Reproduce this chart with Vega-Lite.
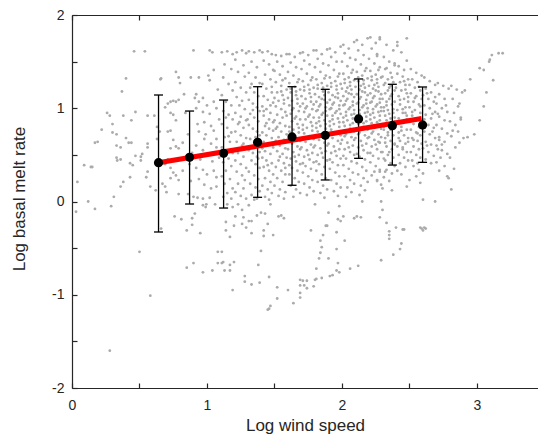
{
"$schema":"https://vega.github.io/schema/vega-lite/v6.json",
"width":466,"height":373,
"autosize":{"type":"none"},
"padding":{"left":72,"top":15,"right":0,"bottom":49},
"background":"white",
"config":{"view":{"stroke":null},"font":"Liberation Sans"},
"datasets":{
"stats":[
{"x":0.641,"y":0.416,"lo":-0.327,"hi":1.142},
{"x":0.871,"y":0.474,"lo":-0.027,"hi":0.970},
{"x":1.123,"y":0.517,"lo":-0.070,"hi":1.088},
{"x":1.375,"y":0.635,"lo":0.045,"hi":1.231},
{"x":1.630,"y":0.692,"lo":0.174,"hi":1.231},
{"x":1.876,"y":0.710,"lo":0.231,"hi":1.203},
{"x":2.123,"y":0.885,"lo":0.463,"hi":1.314},
{"x":2.373,"y":0.813,"lo":0.391,"hi":1.257},
{"x":2.597,"y":0.820,"lo":0.420,"hi":1.228}
],
"fit":[{"x":0.64,"y":0.415},{"x":2.59,"y":0.89}],
"pts":[
{"x":0.12,"y":0.00},{"x":0.03,"y":-0.11},{"x":0.17,"y":-0.08},{"x":0.29,"y":-0.05},{"x":0.66,"y":-0.29},{"x":0.76,"y":-0.16},{"x":0.81,"y":-0.19},{"x":0.85,"y":-0.31},{"x":0.89,"y":-0.25},{"x":0.89,"y":-0.18},{"x":0.91,"y":-0.13},{"x":0.95,"y":-0.34},{"x":0.97,"y":-0.04},{"x":0.99,"y":-0.06},{"x":0.995,"y":-0.03},{"x":1.06,"y":-0.03},{"x":0.50,"y":-0.54},{"x":0.85,"y":-0.71},{"x":0.90,"y":-0.66},{"x":0.97,"y":-0.76},{"x":1.04,"y":-0.74},{"x":1.08,"y":-0.54},{"x":1.08,"y":-0.66},{"x":0.58,"y":-1.01},{"x":0.28,"y":-1.60},
{"x":1.15,"y":-0.03},{"x":1.19,"y":-0.06},{"x":1.23,"y":-0.03},{"x":1.26,"y":-0.09},{"x":1.31,"y":-0.04},{"x":1.35,"y":0.02},{"x":1.47,"y":-0.03},{"x":1.40,"y":-0.12},{"x":1.43,"y":-0.13},{"x":1.37,"y":-0.15},{"x":1.21,"y":-0.16},{"x":1.27,"y":-0.17},{"x":1.14,"y":-0.22},{"x":1.20,"y":-0.26},{"x":1.26,"y":-0.24},{"x":1.29,"y":-0.28},{"x":1.31,"y":-0.21},{"x":1.33,"y":-0.21},{"x":1.45,"y":-0.24},{"x":1.42,"y":-0.31},{"x":1.14,"y":-0.31},{"x":1.17,"y":-0.38},{"x":1.33,"y":-0.34},{"x":1.42,"y":-0.37},{"x":1.49,"y":-0.36},{"x":1.53,"y":-0.16},{"x":1.57,"y":-0.18},{"x":1.55,"y":-0.15},{"x":1.40,"y":-0.53},{"x":1.11,"y":-0.54},{"x":1.12,"y":-0.65},{"x":1.11,"y":-0.66},{"x":1.17,"y":-0.68},{"x":1.20,"y":-0.65},{"x":1.13,"y":-0.74},{"x":1.17,"y":-0.74},{"x":1.38,"y":-0.68},{"x":1.46,"y":-0.81},{"x":1.28,"y":-0.80},{"x":1.28,"y":-0.86},{"x":1.33,"y":-0.89},{"x":1.39,"y":-0.87},{"x":1.19,"y":-0.95},{"x":1.52,"y":-0.92},{"x":1.60,"y":-0.95},{"x":1.52,"y":-1.04},{"x":1.47,"y":-1.12},{"x":1.46,"y":-1.15},{"x":1.45,"y":-1.16},{"x":1.64,"y":-1.09},{"x":1.69,"y":-1.03},{"x":1.69,"y":-0.98},{"x":1.69,"y":-0.84},{"x":1.71,"y":-0.85},{"x":1.74,"y":-0.85},{"x":1.69,"y":-0.90},{"x":1.72,"y":-0.90},{"x":1.74,"y":-0.93},{"x":1.79,"y":-0.91},{"x":1.80,"y":-0.84},{"x":1.81,"y":-0.83},{"x":1.85,"y":-0.82},{"x":1.81,"y":-0.72},{"x":1.83,"y":-0.61},{"x":1.84,"y":-0.55},{"x":1.85,"y":-0.49},{"x":1.84,"y":-0.42},{"x":1.86,"y":-0.36},{"x":1.88,"y":-0.26},{"x":1.89,"y":-0.26},{"x":1.90,"y":-0.12},{"x":1.77,"y":-0.31},{"x":1.80,"y":-0.03},{"x":1.90,"y":-0.61},{"x":1.91,"y":-0.80},{"x":1.93,"y":-0.79},{"x":1.96,"y":-0.74},{"x":1.98,"y":-0.76},{"x":1.97,"y":-0.66},{"x":1.96,"y":-0.51},{"x":1.96,"y":-0.33},{"x":2.02,"y":-0.42},{"x":1.97,"y":-0.19},{"x":1.99,"y":-0.21},{"x":2.01,"y":-0.16},{"x":1.98,"y":-0.05},{"x":2.06,"y":-0.72},{"x":2.12,"y":-0.69},{"x":2.09,"y":-0.18},{"x":2.11,"y":-0.16},{"x":2.14,"y":-0.17},{"x":2.15,"y":0.00},
{"x":2.29,"y":0.00},{"x":2.30,"y":-0.09},{"x":2.28,"y":-0.17},{"x":2.33,"y":-0.23},{"x":2.40,"y":-0.28},{"x":2.35,"y":-0.32},{"x":2.35,"y":-0.36},{"x":2.35,"y":-0.40},{"x":2.45,"y":-0.30},{"x":2.46,"y":-0.30},{"x":2.58,"y":-0.28},{"x":2.59,"y":-0.29},{"x":2.61,"y":-0.28},{"x":2.62,"y":-0.29},{"x":2.60,"y":-0.31},{"x":2.44,"y":-0.45},{"x":2.43,"y":-0.51},{"x":2.38,"y":-0.57},{"x":2.29,"y":-0.63},{"x":2.60,"y":0.02},{"x":2.69,"y":0.00},
{"x":0.46,"y":1.61},{"x":0.54,"y":1.61},{"x":0.90,"y":1.62},{"x":1.02,"y":1.62},{"x":1.04,"y":1.60},{"x":0.77,"y":1.39},{"x":1.05,"y":1.41},{"x":0.66,"y":1.32},{"x":0.655,"y":1.31},{"x":0.79,"y":1.33},{"x":0.80,"y":1.27},{"x":0.88,"y":1.33},{"x":0.94,"y":1.33},{"x":0.40,"y":1.32},{"x":1.01,"y":1.35},{"x":1.02,"y":1.30},{"x":0.37,"y":1.18},{"x":0.92,"y":1.15},{"x":0.26,"y":0.95},{"x":0.28,"y":0.92},{"x":0.30,"y":0.83},{"x":0.22,"y":0.77},{"x":0.19,"y":0.64},{"x":0.17,"y":0.63},{"x":0.09,"y":0.39},{"x":0.14,"y":0.37},{"x":0.15,"y":0.37},{"x":0.04,"y":0.21},{"x":0.38,"y":0.92},{"x":0.44,"y":0.87},{"x":0.47,"y":0.96},{"x":0.56,"y":0.92},{"x":0.61,"y":0.92},{"x":0.30,"y":0.74},{"x":0.33,"y":0.72},{"x":0.40,"y":0.68},{"x":0.42,"y":0.63},{"x":0.44,"y":0.63},{"x":0.33,"y":0.60},{"x":0.36,"y":0.58},{"x":0.33,"y":0.47},{"x":0.335,"y":0.44},{"x":0.36,"y":0.45},{"x":0.43,"y":0.41},{"x":0.45,"y":0.39},{"x":0.47,"y":0.49},{"x":0.51,"y":0.48},{"x":0.52,"y":0.51},{"x":0.51,"y":0.44},{"x":0.56,"y":0.62},{"x":0.56,"y":0.58},{"x":0.63,"y":0.67},{"x":0.63,"y":0.80},{"x":0.65,"y":0.75},{"x":0.69,"y":1.01},{"x":0.71,"y":1.05},{"x":0.73,"y":1.07},{"x":0.75,"y":1.08},{"x":0.77,"y":1.07},{"x":0.79,"y":1.09},{"x":0.73,"y":0.95},{"x":0.75,"y":0.93},{"x":0.77,"y":0.87},{"x":0.71,"y":0.75},{"x":0.73,"y":0.76},{"x":0.75,"y":0.66},{"x":0.73,"y":0.57},{"x":0.77,"y":0.59},{"x":0.79,"y":0.57},{"x":0.82,"y":0.63},{"x":0.73,"y":0.36},{"x":0.75,"y":0.31},{"x":0.77,"y":0.28},{"x":0.79,"y":0.23},{"x":0.82,"y":0.33},{"x":0.56,"y":0.32},{"x":0.58,"y":0.16},{"x":0.62,"y":0.12},{"x":0.70,"y":0.10},{"x":0.79,"y":0.08},{"x":0.38,"y":0.21},{"x":0.36,"y":0.16},{"x":0.31,"y":0.05},{"x":0.43,"y":0.26},{"x":0.91,"y":1.11},{"x":0.94,"y":1.07},{"x":0.97,"y":1.11},{"x":1.00,"y":1.03},{"x":1.05,"y":1.07},{"x":0.92,"y":1.00},{"x":0.97,"y":0.96},{"x":1.02,"y":0.94},{"x":1.07,"y":1.00},{"x":0.93,"y":0.83},{"x":0.98,"y":0.85},{"x":1.03,"y":0.81},{"x":1.05,"y":0.76},{"x":0.94,"y":0.75},{"x":0.98,"y":0.67},{"x":1.03,"y":0.62},{"x":1.07,"y":0.67},{"x":0.92,"y":0.60},{"x":0.97,"y":0.55},{"x":1.07,"y":0.58},{"x":0.92,"y":0.36},{"x":0.97,"y":0.34},{"x":1.00,"y":0.29},{"x":1.05,"y":0.33},{"x":1.07,"y":0.26},{"x":0.94,"y":0.24},{"x":0.98,"y":0.18},{"x":1.03,"y":0.14},{"x":1.07,"y":0.16},{"x":0.93,"y":0.04},{"x":0.97,"y":0.03},{"x":1.02,"y":0.04},{"x":0.90,"y":0.05},{"x":0.86,"y":0.08},{"x":0.88,"y":0.22},{"x":0.87,"y":0.40},{"x":0.69,"y":0.40},{"x":0.71,"y":0.45},{"x":0.73,"y":0.25},{"x":0.67,"y":0.19},{"x":0.69,"y":0.16},{"x":0.55,"y":0.26},{"x":0.84,"y":0.95},{"x":0.86,"y":0.72},{"x":0.89,"y":0.52},{"x":0.95,"y":0.45},{"x":1.01,"y":0.50},{"x":1.04,"y":0.43},{"x":0.99,"y":0.72},{"x":1.09,"y":0.88},{"x":1.09,"y":0.47},{"x":1.08,"y":1.20},{"x":0.83,"y":1.15},{"x":0.85,"y":0.47},
{"x":2.28,"y":1.76},{"x":2.41,"y":1.71},{"x":2.41,"y":1.67},{"x":2.48,"y":1.75},{"x":2.44,"y":1.60},{"x":2.48,"y":1.51},{"x":2.39,"y":1.48},{"x":2.33,"y":1.43},{"x":2.26,"y":1.56},{"x":3.16,"y":1.59},{"x":3.11,"y":1.57},{"x":3.09,"y":1.50},{"x":3.095,"y":1.52},{"x":3.19,"y":1.59},{"x":3.02,"y":1.43},{"x":3.05,"y":1.41},{"x":3.12,"y":1.30},{"x":2.95,"y":1.31},{"x":3.07,"y":1.17},{"x":2.91,"y":1.19},{"x":2.87,"y":1.05},{"x":3.05,"y":1.02},{"x":3.02,"y":0.87},{"x":2.88,"y":0.88},{"x":2.98,"y":0.72},{"x":2.93,"y":0.69},{"x":2.90,"y":0.68},{"x":2.87,"y":0.63},{"x":2.84,"y":0.58},{"x":2.82,"y":0.76},{"x":2.80,"y":0.86},{"x":2.80,"y":0.47},{"x":2.76,"y":0.38},{"x":2.83,"y":0.35},{"x":2.78,"y":0.27},{"x":2.79,"y":0.25},{"x":2.81,"y":0.13},{"x":2.72,"y":0.66},{"x":2.74,"y":0.61},{"x":2.71,"y":0.56},{"x":2.70,"y":0.42},{"x":2.72,"y":0.33},{"x":2.57,"y":0.34},{"x":2.60,"y":0.30},{"x":2.58,"y":0.20},{"x":2.55,"y":0.27},{"x":2.53,"y":0.38},{"x":2.50,"y":0.23},{"x":2.48,"y":0.16},{"x":2.37,"y":0.12},{"x":2.30,"y":0.14},{"x":2.26,"y":0.23},{"x":2.28,"y":0.32},{"x":2.32,"y":0.32},{"x":2.24,"y":0.32},
{"x":1.11,"y":1.60},{"x":1.15,"y":1.61},{"x":1.19,"y":1.58},{"x":1.13,"y":1.47},{"x":1.18,"y":1.42},{"x":1.12,"y":1.33},{"x":1.16,"y":1.26},{"x":1.19,"y":1.19},{"x":1.11,"y":1.14},{"x":1.14,"y":1.07},{"x":1.18,"y":1.03},{"x":1.12,"y":0.97},{"x":1.16,"y":0.93},{"x":1.19,"y":0.88},{"x":1.11,"y":0.83},{"x":1.15,"y":0.79},{"x":1.18,"y":0.74},{"x":1.13,"y":0.69},{"x":1.17,"y":0.64},{"x":1.11,"y":0.58},{"x":1.14,"y":0.55},{"x":1.19,"y":0.52},{"x":1.16,"y":0.46},{"x":1.12,"y":0.42},{"x":1.18,"y":0.38},{"x":1.14,"y":0.33},{"x":1.11,"y":0.27},{"x":1.17,"y":0.24},{"x":1.13,"y":0.19},{"x":1.19,"y":0.14},{"x":1.15,"y":0.09},{"x":1.12,"y":0.05},{"x":1.18,"y":0.03},{"x":1.16,"y":0.70},{"x":1.14,"y":0.90},
{"x":1.22,"y":1.60},{"x":1.26,"y":1.62},{"x":1.29,"y":1.59},{"x":1.21,"y":1.52},{"x":1.27,"y":1.46},{"x":1.23,"y":1.39},{"x":1.28,"y":1.34},{"x":1.21,"y":1.28},{"x":1.25,"y":1.22},{"x":1.29,"y":1.17},{"x":1.22,"y":1.12},{"x":1.26,"y":1.08},{"x":1.24,"y":1.03},{"x":1.28,"y":0.99},{"x":1.21,"y":0.95},{"x":1.25,"y":0.91},{"x":1.29,"y":0.87},{"x":1.23,"y":0.83},{"x":1.27,"y":0.79},{"x":1.21,"y":0.75},{"x":1.25,"y":0.71},{"x":1.29,"y":0.68},{"x":1.22,"y":0.64},{"x":1.26,"y":0.60},{"x":1.28,"y":0.56},{"x":1.23,"y":0.52},{"x":1.27,"y":0.48},{"x":1.21,"y":0.44},{"x":1.25,"y":0.40},{"x":1.29,"y":0.36},{"x":1.22,"y":0.32},{"x":1.26,"y":0.28},{"x":1.28,"y":0.23},{"x":1.23,"y":0.19},{"x":1.27,"y":0.14},{"x":1.21,"y":0.10},{"x":1.25,"y":0.06},{"x":1.29,"y":0.03},{"x":1.24,"y":0.85},{"x":1.27,"y":0.62},
{"x":1.31,"y":1.61},{"x":1.35,"y":1.60},{"x":1.39,"y":1.62},{"x":1.33,"y":1.50},{"x":1.37,"y":1.44},{"x":1.31,"y":1.38},{"x":1.36,"y":1.33},{"x":1.39,"y":1.27},{"x":1.32,"y":1.22},{"x":1.35,"y":1.17},{"x":1.38,"y":1.13},{"x":1.31,"y":1.09},{"x":1.34,"y":1.05},{"x":1.37,"y":1.01},{"x":1.39,"y":0.97},{"x":1.32,"y":0.94},{"x":1.35,"y":0.90},{"x":1.38,"y":0.86},{"x":1.31,"y":0.82},{"x":1.34,"y":0.78},{"x":1.37,"y":0.75},{"x":1.39,"y":0.71},{"x":1.32,"y":0.67},{"x":1.35,"y":0.63},{"x":1.38,"y":0.59},{"x":1.31,"y":0.55},{"x":1.34,"y":0.52},{"x":1.37,"y":0.48},{"x":1.33,"y":0.44},{"x":1.36,"y":0.40},{"x":1.39,"y":0.36},{"x":1.31,"y":0.32},{"x":1.35,"y":0.28},{"x":1.38,"y":0.24},{"x":1.32,"y":0.19},{"x":1.36,"y":0.15},{"x":1.39,"y":0.11},{"x":1.33,"y":0.07},{"x":1.37,"y":0.03},{"x":1.34,"y":0.98},{"x":1.36,"y":0.69},{"x":1.38,"y":0.46},{"x":1.33,"y":1.26},{"x":1.30,"y":0.88},{"x":1.39,"y":0.53},
{"x":1.41,"y":1.60},{"x":1.45,"y":1.61},{"x":1.48,"y":1.58},{"x":1.42,"y":1.51},{"x":1.46,"y":1.47},{"x":1.49,"y":1.41},{"x":1.43,"y":1.36},{"x":1.47,"y":1.31},{"x":1.41,"y":1.26},{"x":1.44,"y":1.21},{"x":1.48,"y":1.17},{"x":1.42,"y":1.13},{"x":1.45,"y":1.09},{"x":1.49,"y":1.06},{"x":1.41,"y":1.02},{"x":1.44,"y":0.99},{"x":1.47,"y":0.95},{"x":1.42,"y":0.92},{"x":1.46,"y":0.88},{"x":1.49,"y":0.85},{"x":1.43,"y":0.81},{"x":1.46,"y":0.78},{"x":1.41,"y":0.74},{"x":1.44,"y":0.71},{"x":1.48,"y":0.68},{"x":1.42,"y":0.64},{"x":1.45,"y":0.61},{"x":1.49,"y":0.58},{"x":1.43,"y":0.54},{"x":1.47,"y":0.51},{"x":1.41,"y":0.47},{"x":1.44,"y":0.44},{"x":1.48,"y":0.41},{"x":1.42,"y":0.37},{"x":1.46,"y":0.33},{"x":1.49,"y":0.29},{"x":1.43,"y":0.25},{"x":1.47,"y":0.21},{"x":1.41,"y":0.17},{"x":1.45,"y":0.13},{"x":1.48,"y":0.09},{"x":1.43,"y":0.05},{"x":1.46,"y":0.02},{"x":1.47,"y":1.03},{"x":1.44,"y":0.84},{"x":1.49,"y":0.76},{"x":1.41,"y":0.57},{"x":1.45,"y":0.39},{"x":1.48,"y":1.23},{"x":1.42,"y":0.97},
{"x":1.51,"y":1.57},{"x":1.55,"y":1.56},{"x":1.59,"y":1.58},{"x":1.52,"y":1.50},{"x":1.56,"y":1.45},{"x":1.50,"y":1.40},{"x":1.54,"y":1.36},{"x":1.58,"y":1.32},{"x":1.51,"y":1.28},{"x":1.55,"y":1.24},{"x":1.59,"y":1.20},{"x":1.52,"y":1.17},{"x":1.56,"y":1.14},{"x":1.50,"y":1.11},{"x":1.53,"y":1.08},{"x":1.57,"y":1.05},{"x":1.51,"y":1.02},{"x":1.55,"y":0.99},{"x":1.58,"y":0.96},{"x":1.52,"y":0.93},{"x":1.56,"y":0.90},{"x":1.50,"y":0.87},{"x":1.54,"y":0.84},{"x":1.58,"y":0.81},{"x":1.51,"y":0.78},{"x":1.55,"y":0.75},{"x":1.59,"y":0.72},{"x":1.53,"y":0.69},{"x":1.57,"y":0.66},{"x":1.50,"y":0.63},{"x":1.54,"y":0.60},{"x":1.58,"y":0.57},{"x":1.52,"y":0.54},{"x":1.56,"y":0.51},{"x":1.59,"y":0.47},{"x":1.53,"y":0.44},{"x":1.57,"y":0.41},{"x":1.51,"y":0.37},{"x":1.55,"y":0.33},{"x":1.58,"y":0.29},{"x":1.52,"y":0.25},{"x":1.56,"y":0.21},{"x":1.50,"y":0.17},{"x":1.54,"y":0.13},{"x":1.58,"y":0.10},{"x":1.53,"y":0.06},{"x":1.57,"y":0.03},{"x":1.55,"y":1.18},{"x":1.59,"y":0.92},{"x":1.52,"y":0.80},{"x":1.57,"y":1.09},{"x":1.54,"y":0.48},{"x":1.58,"y":0.36},{"x":1.51,"y":0.65},{"x":1.56,"y":1.30},
{"x":1.61,"y":1.58},{"x":1.65,"y":1.55},{"x":1.69,"y":1.59},{"x":1.62,"y":1.49},{"x":1.66,"y":1.44},{"x":1.60,"y":1.39},{"x":1.64,"y":1.35},{"x":1.68,"y":1.31},{"x":1.61,"y":1.27},{"x":1.65,"y":1.23},{"x":1.69,"y":1.20},{"x":1.62,"y":1.17},{"x":1.66,"y":1.14},{"x":1.60,"y":1.11},{"x":1.63,"y":1.08},{"x":1.67,"y":1.05},{"x":1.61,"y":1.03},{"x":1.64,"y":1.00},{"x":1.68,"y":0.97},{"x":1.62,"y":0.94},{"x":1.66,"y":0.91},{"x":1.69,"y":0.88},{"x":1.63,"y":0.86},{"x":1.67,"y":0.83},{"x":1.61,"y":0.80},{"x":1.64,"y":0.77},{"x":1.68,"y":0.74},{"x":1.62,"y":0.71},{"x":1.66,"y":0.68},{"x":1.69,"y":0.65},{"x":1.63,"y":0.62},{"x":1.67,"y":0.59},{"x":1.60,"y":0.56},{"x":1.64,"y":0.53},{"x":1.68,"y":0.50},{"x":1.62,"y":0.46},{"x":1.66,"y":0.43},{"x":1.69,"y":0.40},{"x":1.63,"y":0.36},{"x":1.67,"y":0.33},{"x":1.61,"y":0.29},{"x":1.65,"y":0.25},{"x":1.68,"y":0.21},{"x":1.62,"y":0.17},{"x":1.66,"y":0.13},{"x":1.69,"y":0.09},{"x":1.64,"y":0.05},{"x":1.67,"y":1.10},{"x":1.63,"y":0.98},{"x":1.69,"y":1.02},{"x":1.65,"y":0.89},{"x":1.61,"y":0.75},{"x":1.68,"y":0.79},{"x":1.64,"y":0.66},{"x":1.66,"y":1.18},{"x":1.62,"y":1.21},{"x":1.69,"y":0.56},{"x":1.65,"y":0.48},{"x":1.61,"y":0.39},{"x":1.67,"y":1.28},
{"x":1.71,"y":1.60},{"x":1.75,"y":1.57},{"x":1.79,"y":1.62},{"x":1.72,"y":1.51},{"x":1.76,"y":1.47},{"x":1.70,"y":1.42},{"x":1.74,"y":1.37},{"x":1.78,"y":1.33},{"x":1.71,"y":1.29},{"x":1.75,"y":1.25},{"x":1.79,"y":1.22},{"x":1.72,"y":1.19},{"x":1.76,"y":1.16},{"x":1.70,"y":1.13},{"x":1.73,"y":1.10},{"x":1.77,"y":1.07},{"x":1.71,"y":1.05},{"x":1.74,"y":1.02},{"x":1.78,"y":0.99},{"x":1.72,"y":0.96},{"x":1.76,"y":0.93},{"x":1.79,"y":0.90},{"x":1.73,"y":0.88},{"x":1.77,"y":0.85},{"x":1.71,"y":0.82},{"x":1.74,"y":0.79},{"x":1.78,"y":0.76},{"x":1.72,"y":0.73},{"x":1.76,"y":0.70},{"x":1.79,"y":0.67},{"x":1.73,"y":0.64},{"x":1.77,"y":0.61},{"x":1.70,"y":0.58},{"x":1.74,"y":0.55},{"x":1.78,"y":0.52},{"x":1.72,"y":0.48},{"x":1.76,"y":0.45},{"x":1.79,"y":0.42},{"x":1.73,"y":0.38},{"x":1.77,"y":0.35},{"x":1.71,"y":0.31},{"x":1.75,"y":0.27},{"x":1.78,"y":0.23},{"x":1.72,"y":0.19},{"x":1.76,"y":0.15},{"x":1.79,"y":0.11},{"x":1.74,"y":0.07},{"x":1.77,"y":1.12},{"x":1.73,"y":1.00},{"x":1.79,"y":1.04},{"x":1.75,"y":0.91},{"x":1.71,"y":0.77},{"x":1.78,"y":0.81},{"x":1.74,"y":0.68},{"x":1.76,"y":1.20},{"x":1.72,"y":1.23},{"x":1.79,"y":0.58},{"x":1.75,"y":0.50},{"x":1.71,"y":0.41},{"x":1.77,"y":1.30},
{"x":1.81,"y":1.62},{"x":1.85,"y":1.58},{"x":1.89,"y":1.63},{"x":1.82,"y":1.53},{"x":1.86,"y":1.48},{"x":1.80,"y":1.44},{"x":1.84,"y":1.39},{"x":1.88,"y":1.35},{"x":1.81,"y":1.31},{"x":1.85,"y":1.27},{"x":1.89,"y":1.24},{"x":1.82,"y":1.21},{"x":1.86,"y":1.18},{"x":1.80,"y":1.15},{"x":1.83,"y":1.12},{"x":1.87,"y":1.09},{"x":1.81,"y":1.07},{"x":1.84,"y":1.04},{"x":1.88,"y":1.01},{"x":1.82,"y":0.98},{"x":1.86,"y":0.95},{"x":1.89,"y":0.92},{"x":1.83,"y":0.90},{"x":1.87,"y":0.87},{"x":1.81,"y":0.84},{"x":1.84,"y":0.81},{"x":1.88,"y":0.78},{"x":1.82,"y":0.75},{"x":1.86,"y":0.72},{"x":1.89,"y":0.69},{"x":1.83,"y":0.66},{"x":1.87,"y":0.63},{"x":1.80,"y":0.60},{"x":1.84,"y":0.57},{"x":1.88,"y":0.54},{"x":1.82,"y":0.50},{"x":1.86,"y":0.47},{"x":1.89,"y":0.44},{"x":1.83,"y":0.40},{"x":1.87,"y":0.37},{"x":1.81,"y":0.33},{"x":1.85,"y":0.29},{"x":1.88,"y":0.25},{"x":1.82,"y":0.21},{"x":1.86,"y":0.17},{"x":1.89,"y":0.13},{"x":1.84,"y":0.09},{"x":1.87,"y":0.04},{"x":1.87,"y":1.14},{"x":1.83,"y":1.02},{"x":1.89,"y":1.06},{"x":1.85,"y":0.93},{"x":1.81,"y":0.79},{"x":1.88,"y":0.83},{"x":1.84,"y":0.70},{"x":1.86,"y":1.22},{"x":1.82,"y":1.25},{"x":1.89,"y":0.60},{"x":1.85,"y":0.52},{"x":1.81,"y":0.43},{"x":1.87,"y":1.32},{"x":1.83,"y":0.86},{"x":1.88,"y":0.97},{"x":1.85,"y":1.10},{"x":1.81,"y":0.97},
{"x":1.91,"y":1.64},{"x":1.95,"y":1.60},{"x":1.99,"y":1.66},{"x":1.92,"y":1.55},{"x":1.96,"y":1.50},{"x":1.90,"y":1.46},{"x":1.94,"y":1.41},{"x":1.98,"y":1.37},{"x":1.91,"y":1.33},{"x":1.95,"y":1.29},{"x":1.99,"y":1.26},{"x":1.92,"y":1.23},{"x":1.96,"y":1.20},{"x":1.90,"y":1.17},{"x":1.93,"y":1.14},{"x":1.97,"y":1.11},{"x":1.91,"y":1.09},{"x":1.94,"y":1.06},{"x":1.98,"y":1.03},{"x":1.92,"y":1.00},{"x":1.96,"y":0.97},{"x":1.99,"y":0.94},{"x":1.93,"y":0.92},{"x":1.97,"y":0.89},{"x":1.91,"y":0.86},{"x":1.94,"y":0.83},{"x":1.98,"y":0.80},{"x":1.92,"y":0.77},{"x":1.96,"y":0.74},{"x":1.99,"y":0.71},{"x":1.93,"y":0.68},{"x":1.97,"y":0.65},{"x":1.90,"y":0.62},{"x":1.94,"y":0.59},{"x":1.98,"y":0.56},{"x":1.92,"y":0.52},{"x":1.96,"y":0.49},{"x":1.99,"y":0.46},{"x":1.93,"y":0.42},{"x":1.97,"y":0.39},{"x":1.91,"y":0.35},{"x":1.95,"y":0.31},{"x":1.98,"y":0.27},{"x":1.92,"y":0.23},{"x":1.96,"y":0.19},{"x":1.99,"y":0.15},{"x":1.94,"y":0.11},{"x":1.97,"y":0.06},{"x":1.97,"y":1.16},{"x":1.93,"y":1.04},{"x":1.99,"y":1.08},{"x":1.95,"y":0.95},{"x":1.91,"y":0.81},{"x":1.98,"y":0.85},{"x":1.94,"y":0.72},{"x":1.96,"y":1.24},{"x":1.92,"y":1.27},{"x":1.99,"y":0.62},{"x":1.95,"y":0.54},{"x":1.91,"y":0.45},{"x":1.97,"y":1.34},{"x":1.93,"y":0.88},{"x":1.98,"y":0.99},{"x":1.95,"y":1.12},{"x":1.91,"y":0.99},
{"x":2.01,"y":1.68},{"x":2.05,"y":1.64},{"x":2.09,"y":1.71},{"x":2.02,"y":1.59},{"x":2.06,"y":1.54},{"x":2.00,"y":1.50},{"x":2.04,"y":1.45},{"x":2.08,"y":1.41},{"x":2.01,"y":1.37},{"x":2.05,"y":1.33},{"x":2.09,"y":1.30},{"x":2.02,"y":1.27},{"x":2.06,"y":1.24},{"x":2.00,"y":1.21},{"x":2.03,"y":1.18},{"x":2.07,"y":1.15},{"x":2.01,"y":1.13},{"x":2.04,"y":1.10},{"x":2.08,"y":1.07},{"x":2.02,"y":1.04},{"x":2.06,"y":1.01},{"x":2.09,"y":0.98},{"x":2.03,"y":0.96},{"x":2.07,"y":0.93},{"x":2.01,"y":0.90},{"x":2.04,"y":0.87},{"x":2.08,"y":0.84},{"x":2.02,"y":0.81},{"x":2.06,"y":0.78},{"x":2.09,"y":0.75},{"x":2.03,"y":0.72},{"x":2.07,"y":0.69},{"x":2.00,"y":0.66},{"x":2.04,"y":0.63},{"x":2.08,"y":0.60},{"x":2.02,"y":0.56},{"x":2.06,"y":0.53},{"x":2.09,"y":0.50},{"x":2.03,"y":0.46},{"x":2.07,"y":0.43},{"x":2.01,"y":0.39},{"x":2.05,"y":0.35},{"x":2.08,"y":0.31},{"x":2.02,"y":0.27},{"x":2.06,"y":0.23},{"x":2.09,"y":0.19},{"x":2.04,"y":0.15},{"x":2.07,"y":0.10},{"x":2.03,"y":0.05},{"x":2.07,"y":1.20},{"x":2.03,"y":1.08},{"x":2.09,"y":1.12},{"x":2.05,"y":0.99},{"x":2.01,"y":0.85},{"x":2.08,"y":0.89},{"x":2.04,"y":0.76},{"x":2.06,"y":1.28},{"x":2.02,"y":1.31},{"x":2.09,"y":0.66},{"x":2.05,"y":0.58},{"x":2.01,"y":0.49},{"x":2.07,"y":1.38},{"x":2.03,"y":0.92},{"x":2.08,"y":1.03},{"x":2.05,"y":1.16},{"x":2.01,"y":1.03},{"x":2.06,"y":0.82},{"x":2.04,"y":1.22},{"x":2.09,"y":0.94},{"x":2.02,"y":0.70},
{"x":2.11,"y":1.73},{"x":2.15,"y":1.68},{"x":2.19,"y":1.75},{"x":2.12,"y":1.62},{"x":2.16,"y":1.57},{"x":2.10,"y":1.52},{"x":2.14,"y":1.47},{"x":2.18,"y":1.43},{"x":2.11,"y":1.39},{"x":2.15,"y":1.35},{"x":2.19,"y":1.32},{"x":2.12,"y":1.29},{"x":2.16,"y":1.26},{"x":2.10,"y":1.23},{"x":2.13,"y":1.20},{"x":2.17,"y":1.17},{"x":2.11,"y":1.15},{"x":2.14,"y":1.12},{"x":2.18,"y":1.09},{"x":2.12,"y":1.06},{"x":2.16,"y":1.03},{"x":2.19,"y":1.00},{"x":2.13,"y":0.98},{"x":2.17,"y":0.95},{"x":2.11,"y":0.92},{"x":2.14,"y":0.89},{"x":2.18,"y":0.86},{"x":2.12,"y":0.83},{"x":2.16,"y":0.80},{"x":2.19,"y":0.77},{"x":2.13,"y":0.74},{"x":2.17,"y":0.71},{"x":2.10,"y":0.68},{"x":2.14,"y":0.65},{"x":2.18,"y":0.62},{"x":2.12,"y":0.58},{"x":2.16,"y":0.55},{"x":2.19,"y":0.52},{"x":2.13,"y":0.48},{"x":2.17,"y":0.45},{"x":2.11,"y":0.41},{"x":2.15,"y":0.37},{"x":2.18,"y":0.33},{"x":2.12,"y":0.29},{"x":2.16,"y":0.25},{"x":2.19,"y":0.21},{"x":2.14,"y":0.17},{"x":2.17,"y":0.12},{"x":2.13,"y":0.07},{"x":2.17,"y":1.22},{"x":2.13,"y":1.10},{"x":2.19,"y":1.14},{"x":2.15,"y":1.01},{"x":2.11,"y":0.87},{"x":2.18,"y":0.91},{"x":2.14,"y":0.78},{"x":2.16,"y":1.30},{"x":2.12,"y":1.33},{"x":2.19,"y":0.68},{"x":2.15,"y":0.60},{"x":2.11,"y":0.51},{"x":2.17,"y":1.40},{"x":2.13,"y":0.94},{"x":2.18,"y":1.05},{"x":2.15,"y":1.18},{"x":2.11,"y":1.05},{"x":2.16,"y":0.84},{"x":2.14,"y":1.24},{"x":2.19,"y":0.96},{"x":2.12,"y":0.72},
{"x":2.21,"y":1.76},{"x":2.25,"y":1.70},{"x":2.28,"y":1.74},{"x":2.22,"y":1.64},{"x":2.26,"y":1.58},{"x":2.20,"y":1.53},{"x":2.24,"y":1.48},{"x":2.28,"y":1.44},{"x":2.21,"y":1.40},{"x":2.25,"y":1.36},{"x":2.29,"y":1.33},{"x":2.22,"y":1.30},{"x":2.26,"y":1.27},{"x":2.20,"y":1.24},{"x":2.23,"y":1.21},{"x":2.27,"y":1.18},{"x":2.21,"y":1.16},{"x":2.24,"y":1.13},{"x":2.28,"y":1.10},{"x":2.22,"y":1.07},{"x":2.26,"y":1.04},{"x":2.29,"y":1.01},{"x":2.23,"y":0.99},{"x":2.27,"y":0.96},{"x":2.21,"y":0.93},{"x":2.24,"y":0.90},{"x":2.28,"y":0.87},{"x":2.22,"y":0.84},{"x":2.26,"y":0.81},{"x":2.29,"y":0.78},{"x":2.23,"y":0.75},{"x":2.27,"y":0.72},{"x":2.20,"y":0.69},{"x":2.24,"y":0.66},{"x":2.28,"y":0.63},{"x":2.22,"y":0.59},{"x":2.26,"y":0.56},{"x":2.29,"y":0.53},{"x":2.23,"y":0.49},{"x":2.27,"y":0.46},{"x":2.21,"y":0.42},{"x":2.25,"y":0.38},{"x":2.28,"y":0.34},{"x":2.22,"y":0.28},{"x":2.26,"y":0.22},{"x":2.29,"y":0.18},{"x":2.27,"y":1.23},{"x":2.23,"y":1.11},{"x":2.29,"y":1.15},{"x":2.25,"y":1.02},{"x":2.21,"y":0.88},{"x":2.28,"y":0.92},{"x":2.24,"y":0.79},{"x":2.26,"y":1.31},{"x":2.22,"y":1.34},{"x":2.29,"y":0.69},{"x":2.25,"y":0.61},{"x":2.21,"y":0.52},{"x":2.27,"y":1.41},{"x":2.23,"y":0.95},{"x":2.28,"y":1.06},{"x":2.25,"y":1.19},{"x":2.21,"y":1.06},{"x":2.26,"y":0.85},{"x":2.24,"y":1.25},{"x":2.29,"y":0.97},{"x":2.22,"y":0.73},{"x":2.27,"y":0.64},
{"x":2.33,"y":1.68},{"x":2.38,"y":1.62},{"x":2.31,"y":1.55},{"x":2.35,"y":1.50},{"x":2.39,"y":1.46},{"x":2.32,"y":1.42},{"x":2.36,"y":1.38},{"x":2.30,"y":1.34},{"x":2.34,"y":1.31},{"x":2.38,"y":1.28},{"x":2.31,"y":1.25},{"x":2.35,"y":1.22},{"x":2.39,"y":1.19},{"x":2.32,"y":1.16},{"x":2.36,"y":1.13},{"x":2.30,"y":1.10},{"x":2.33,"y":1.07},{"x":2.37,"y":1.04},{"x":2.31,"y":1.01},{"x":2.34,"y":0.98},{"x":2.38,"y":0.95},{"x":2.32,"y":0.92},{"x":2.36,"y":0.89},{"x":2.39,"y":0.86},{"x":2.33,"y":0.83},{"x":2.37,"y":0.80},{"x":2.31,"y":0.77},{"x":2.34,"y":0.74},{"x":2.38,"y":0.71},{"x":2.32,"y":0.68},{"x":2.36,"y":0.65},{"x":2.39,"y":0.62},{"x":2.33,"y":0.59},{"x":2.37,"y":0.56},{"x":2.30,"y":0.53},{"x":2.34,"y":0.50},{"x":2.38,"y":0.47},{"x":2.32,"y":0.44},{"x":2.36,"y":0.41},{"x":2.39,"y":0.38},{"x":2.33,"y":0.34},{"x":2.37,"y":0.30},{"x":2.31,"y":0.26},{"x":2.35,"y":0.22},{"x":2.37,"y":1.15},{"x":2.33,"y":1.03},{"x":2.39,"y":1.07},{"x":2.35,"y":0.94},{"x":2.31,"y":0.80},{"x":2.38,"y":0.84},{"x":2.34,"y":0.71},{"x":2.36,"y":1.24},{"x":2.32,"y":1.27},{"x":2.39,"y":0.61},{"x":2.35,"y":0.53},{"x":2.31,"y":0.46},{"x":2.37,"y":1.33},{"x":2.33,"y":0.87},{"x":2.38,"y":0.99},{"x":2.35,"y":1.10},{"x":2.31,"y":0.97},{"x":2.36,"y":0.77},{"x":2.34,"y":1.19},{"x":2.39,"y":0.90},{"x":2.32,"y":0.63},
{"x":2.42,"y":1.45},{"x":2.46,"y":1.41},{"x":2.41,"y":1.37},{"x":2.45,"y":1.34},{"x":2.49,"y":1.31},{"x":2.43,"y":1.28},{"x":2.47,"y":1.25},{"x":2.40,"y":1.22},{"x":2.44,"y":1.19},{"x":2.48,"y":1.16},{"x":2.42,"y":1.13},{"x":2.46,"y":1.10},{"x":2.49,"y":1.07},{"x":2.43,"y":1.04},{"x":2.47,"y":1.01},{"x":2.41,"y":0.98},{"x":2.45,"y":0.95},{"x":2.48,"y":0.92},{"x":2.42,"y":0.89},{"x":2.46,"y":0.86},{"x":2.40,"y":0.83},{"x":2.44,"y":0.80},{"x":2.48,"y":0.77},{"x":2.42,"y":0.74},{"x":2.46,"y":0.71},{"x":2.49,"y":0.68},{"x":2.43,"y":0.65},{"x":2.47,"y":0.62},{"x":2.41,"y":0.59},{"x":2.45,"y":0.56},{"x":2.48,"y":0.53},{"x":2.42,"y":0.50},{"x":2.46,"y":0.47},{"x":2.49,"y":0.44},{"x":2.43,"y":0.41},{"x":2.47,"y":0.37},{"x":2.41,"y":0.33},{"x":2.44,"y":0.29},{"x":2.47,"y":1.20},{"x":2.43,"y":1.09},{"x":2.49,"y":1.12},{"x":2.45,"y":0.99},{"x":2.41,"y":0.86},{"x":2.48,"y":0.88},{"x":2.44,"y":0.76},{"x":2.46,"y":1.29},{"x":2.49,"y":0.64},{"x":2.45,"y":0.58},{"x":2.42,"y":0.68},{"x":2.47,"y":0.95},
{"x":2.51,"y":1.42},{"x":2.55,"y":1.38},{"x":2.59,"y":1.35},{"x":2.52,"y":1.31},{"x":2.56,"y":1.28},{"x":2.50,"y":1.25},{"x":2.54,"y":1.22},{"x":2.58,"y":1.19},{"x":2.51,"y":1.16},{"x":2.55,"y":1.13},{"x":2.59,"y":1.10},{"x":2.53,"y":1.07},{"x":2.57,"y":1.04},{"x":2.50,"y":1.01},{"x":2.54,"y":0.98},{"x":2.58,"y":0.95},{"x":2.52,"y":0.92},{"x":2.56,"y":0.89},{"x":2.59,"y":0.86},{"x":2.53,"y":0.83},{"x":2.57,"y":0.80},{"x":2.51,"y":0.77},{"x":2.55,"y":0.74},{"x":2.58,"y":0.71},{"x":2.52,"y":0.68},{"x":2.56,"y":0.65},{"x":2.59,"y":0.62},{"x":2.53,"y":0.59},{"x":2.57,"y":0.56},{"x":2.51,"y":0.53},{"x":2.55,"y":0.50},{"x":2.58,"y":0.47},{"x":2.52,"y":0.44},{"x":2.56,"y":0.41},{"x":2.54,"y":1.11},{"x":2.58,"y":1.02},{"x":2.52,"y":0.96},{"x":2.56,"y":0.73},{"x":2.59,"y":0.79},{"x":2.53,"y":0.66},{"x":2.57,"y":1.23},{"x":2.51,"y":0.88},
{"x":2.61,"y":1.33},{"x":2.65,"y":1.29},{"x":2.69,"y":1.25},{"x":2.62,"y":1.21},{"x":2.66,"y":1.17},{"x":2.60,"y":1.14},{"x":2.64,"y":1.10},{"x":2.68,"y":1.07},{"x":2.61,"y":1.03},{"x":2.65,"y":1.00},{"x":2.69,"y":0.96},{"x":2.62,"y":0.93},{"x":2.66,"y":0.89},{"x":2.60,"y":0.86},{"x":2.64,"y":0.82},{"x":2.68,"y":0.79},{"x":2.61,"y":0.75},{"x":2.65,"y":0.72},{"x":2.69,"y":0.68},{"x":2.62,"y":0.64},{"x":2.66,"y":0.61},{"x":2.60,"y":0.57},{"x":2.64,"y":0.53},{"x":2.68,"y":0.49},{"x":2.62,"y":0.45},{"x":2.66,"y":0.41},{"x":2.63,"y":1.16},{"x":2.67,"y":0.94},{"x":2.61,"y":0.88},{"x":2.67,"y":0.75},{"x":2.63,"y":0.60},{"x":2.69,"y":1.12},
{"x":2.71,"y":1.27},{"x":2.75,"y":1.24},{"x":2.79,"y":1.21},{"x":2.72,"y":1.15},{"x":2.76,"y":1.10},{"x":2.70,"y":1.05},{"x":2.74,"y":1.00},{"x":2.78,"y":0.96},{"x":2.72,"y":0.91},{"x":2.76,"y":0.87},{"x":2.70,"y":0.82},{"x":2.74,"y":0.78},{"x":2.78,"y":0.73},{"x":2.72,"y":0.69},{"x":2.76,"y":0.64},{"x":2.70,"y":0.60},{"x":2.74,"y":0.55},{"x":2.78,"y":0.51},{"x":2.73,"y":0.47},{"x":2.77,"y":1.03},{"x":2.71,"y":0.94},
{"x":2.81,"y":1.24},{"x":2.85,"y":1.20},{"x":2.89,"y":1.17},{"x":2.82,"y":1.10},{"x":2.86,"y":1.02},{"x":2.83,"y":0.95},{"x":2.88,"y":0.90},{"x":2.84,"y":0.82},{"x":2.81,"y":0.70},{"x":2.86,"y":0.75}
]
},
"layer":[
{"data":{"name":"pts"},
 "mark":{"type":"circle","size":8,"color":"#ababab","opacity":1},
 "encoding":{
  "x":{"field":"x","type":"quantitative","scale":{"domain":[0,3.452],"nice":false,"zero":false},
   "axis":{"orient":"bottom","values":[0,0.5,1,1.5,2,2.5,3],"tickSize":-5,"tickWidth":1.2,"tickColor":"#262626","domainColor":"#262626","domainWidth":1.2,"grid":false,"labelPadding":15,"labelFlush":false,"labelOverlap":false,"labelExpr":"datum.value % 1 == 0 ? '' + datum.value : ''","labelFont":"Liberation Sans","labelFontSize":14,"labelColor":"#262626","title":"Log wind speed","titleFont":"Liberation Sans","titleFontSize":17,"titleFontWeight":"normal","titleColor":"#262626","titleX":233,"titleY":42,"titleAlign":"center","titleBaseline":"alphabetic"}},
  "y":{"field":"y","type":"quantitative","scale":{"domain":[-2,2],"nice":false,"zero":false},
   "axis":{"orient":"left","values":[-2,-1.5,-1,-0.5,0,0.5,1,1.5,2],"tickSize":-5,"tickWidth":1.2,"tickColor":"#262626","domainColor":"#262626","domainWidth":1.2,"grid":false,"labelPadding":13,"labelOverlap":false,"labelFlush":false,"labelExpr":"datum.value % 1 == 0 ? '' + datum.value : ''","labelFont":"Liberation Sans","labelFontSize":14,"labelColor":"#262626","title":"Log basal melt rate","titleFont":"Liberation Sans","titleFontSize":17,"titleFontWeight":"normal","titleColor":"#262626","titleAngle":-90,"titleX":-48,"titleY":183.5,"titleAlign":"center","titleBaseline":"alphabetic"}}
 }},
{"data":{"name":"stats"},
 "mark":{"type":"rule","color":"black","strokeWidth":1.3},
 "encoding":{
  "x":{"field":"x","type":"quantitative","scale":{"domain":[0,3.452],"nice":false,"zero":false},
   "axis":{"orient":"top","values":[0,0.5,1,1.5,2,2.5,3],"tickSize":-5,"tickWidth":1.2,"tickColor":"#262626","domainColor":"#262626","domainWidth":1.2,"grid":false,"labels":false,"title":null}},
  "y":{"field":"lo","type":"quantitative","scale":{"domain":[-2,2],"nice":false,"zero":false},"axis":null},
  "y2":{"field":"hi"}
 }},
{"data":{"name":"stats"},
 "mark":{"type":"point","shape":"stroke","size":81,"filled":false,"color":"black","strokeWidth":1.3,"opacity":1},
 "encoding":{
  "x":{"field":"x","type":"quantitative","scale":{"domain":[0,3.452],"nice":false,"zero":false},"axis":null},
  "y":{"field":"lo","type":"quantitative","scale":{"domain":[-2,2],"nice":false,"zero":false},"axis":null}
 }},
{"data":{"name":"stats"},
 "mark":{"type":"point","shape":"stroke","size":81,"filled":false,"color":"black","strokeWidth":1.3,"opacity":1},
 "encoding":{
  "x":{"field":"x","type":"quantitative","scale":{"domain":[0,3.452],"nice":false,"zero":false},"axis":null},
  "y":{"field":"hi","type":"quantitative","scale":{"domain":[-2,2],"nice":false,"zero":false},"axis":null}
 }},
{"data":{"name":"fit"},
 "mark":{"type":"line","color":"#ff0000","strokeWidth":5,"strokeCap":"butt"},
 "encoding":{
  "x":{"field":"x","type":"quantitative","scale":{"domain":[0,3.452],"nice":false,"zero":false},"axis":null},
  "y":{"field":"y","type":"quantitative","scale":{"domain":[-2,2],"nice":false,"zero":false},"axis":null}
 }},
{"data":{"name":"stats"},
 "mark":{"type":"circle","size":85,"color":"black","opacity":1},
 "encoding":{
  "x":{"field":"x","type":"quantitative","scale":{"domain":[0,3.452],"nice":false,"zero":false},"axis":null},
  "y":{"field":"y","type":"quantitative","scale":{"domain":[-2,2],"nice":false,"zero":false},"axis":null}
 }}
],
"resolve":{"axis":{"x":"independent","y":"independent"}}
}
